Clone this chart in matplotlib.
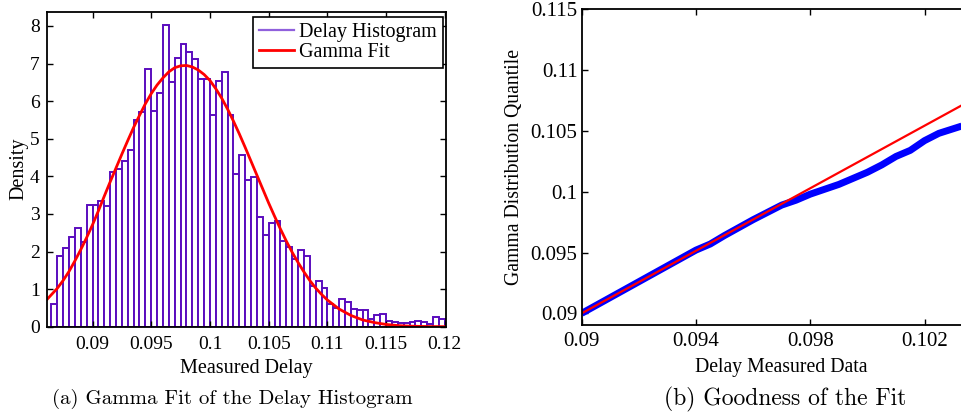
import numpy as np
import matplotlib
matplotlib.use('Agg')
import matplotlib.pyplot as plt
from matplotlib.lines import Line2D


# histogram of measured delay (bins of width 0.0005 starting at 0.0865)
bin_start = 0.0865
bin_width = 0.0005
density = [0.61, 1.89, 2.09, 2.38, 2.62, 2.25, 3.23, 3.25, 3.35, 3.20,
           4.11, 4.20, 4.40, 4.70, 5.49, 5.71, 6.85, 5.74, 6.22, 8.02,
           6.50, 7.15, 7.53, 7.30, 7.11, 6.58, 6.60, 5.64, 6.53, 6.78,
           5.64, 4.07, 4.56, 3.89, 3.97, 2.93, 2.45, 2.76, 2.81, 2.27,
           2.13, 1.80, 2.05, 1.87, 1.07, 1.22, 1.02, 0.60, 0.49, 0.75,
           0.66, 0.47, 0.45, 0.44, 0.21, 0.31, 0.35, 0.14, 0.13, 0.11,
           0.11, 0.12, 0.14, 0.12, 0.07, 0.27, 0.21]

# gamma fit curve
fit_x = [0.08614, 0.087, 0.0875, 0.088, 0.0885, 0.089, 0.0895, 0.090, 0.0905,
         0.091, 0.0915, 0.092, 0.0925, 0.093, 0.0935, 0.094, 0.0945, 0.095,
         0.0955, 0.096, 0.0965, 0.097, 0.0975, 0.098, 0.0985, 0.099, 0.0995,
         0.100, 0.1005, 0.101, 0.1015, 0.102, 0.1025, 0.103, 0.1035, 0.104,
         0.1045, 0.105, 0.1055, 0.106, 0.1065, 0.107, 0.1075, 0.108, 0.1085,
         0.109, 0.1095, 0.110, 0.111, 0.112, 0.113, 0.114, 0.115, 0.116,
         0.117, 0.118, 0.119, 0.1201]
fit_y = [0.73, 1.02, 1.23, 1.47, 1.75, 2.05, 2.37, 2.71, 3.08,
         3.47, 3.85, 4.22, 4.59, 4.95, 5.30, 5.62, 5.93, 6.20,
         6.43, 6.62, 6.78, 6.89, 6.94, 6.95, 6.91, 6.83, 6.71,
         6.55, 6.33, 6.08, 5.79, 5.47, 5.13, 4.77, 4.40, 4.03,
         3.66, 3.29, 2.94, 2.60, 2.28, 1.98, 1.71, 1.46, 1.23,
         1.03, 0.86, 0.71, 0.47, 0.30, 0.18, 0.11, 0.06, 0.03,
         0.015, 0.007, 0.003, 0.001]

# QQ plot: measured quantiles vs gamma quantiles
qq_x = [0.0900, 0.0910, 0.0920, 0.0930, 0.0940, 0.0945, 0.0950, 0.0960, 0.0970,
        0.0975, 0.0980, 0.0985, 0.0990, 0.0995, 0.1000, 0.1005, 0.1010, 0.1015,
        0.1020, 0.1025, 0.1033]
qq_y = [0.0900, 0.0913, 0.0926, 0.0939, 0.0952, 0.0957, 0.0964, 0.0977, 0.0989,
        0.0993, 0.0998, 0.1002, 0.1006, 0.1011, 0.1016, 0.1022, 0.1029, 0.1034,
        0.1042, 0.1048, 0.1054]
ref_x = [0.0900, 0.1033]
ref_y = [0.0900, 0.1071]

hist_xticks = [0.09, 0.095, 0.1, 0.105, 0.11, 0.115, 0.12]
hist_xlabels = ['0.09', '0.095', '0.1', '0.105', '0.11', '0.115', '0.12']
qq_xticks = [0.09, 0.094, 0.098, 0.102]
qq_xlabels = ['0.09', '0.094', '0.098', '0.102']
qq_yticks = [0.09, 0.095, 0.1, 0.105, 0.11, 0.115]
qq_ylabels = ['0.09', '0.095', '0.1', '0.105', '0.11', '0.115']

plt.rcParams['font.family'] = ['Liberation Serif', 'DejaVu Serif']

W, H = 961, 419
fig = plt.figure(figsize=(W / 100, H / 100), dpi=100)


def style_axes(ax, size, pad):
    for s in ax.spines.values():
        s.set_linewidth(1.3)
    ax.tick_params(direction='in', top=True, right=True, length=4, width=1.0,
                   labelsize=size, pad=pad)


# (a) histogram with gamma fit
ax1 = fig.add_axes([46.7 / W, 1 - 326.7 / H, (446 - 46.7) / W, 315 / H])
lefts = bin_start + bin_width * np.arange(len(density))
ax1.bar(lefts, density, width=bin_width, align='edge', color='white',
        edgecolor='#5a0cbe', linewidth=1.4)
ax1.plot(fit_x, fit_y, color='red', linewidth=2.0)
ax1.set_xlim(0.0861, 0.1201)
ax1.set_ylim(0, 8.38)
ax1.set_xticks(hist_xticks)
ax1.set_xticklabels(hist_xlabels)
ax1.set_yticks(range(9))
style_axes(ax1, 14, 5)
ax1.tick_params(axis='x', pad=7)
ax1.set_xlabel('Measured Delay', fontsize=14.5, labelpad=4)
ax1.set_ylabel('Density', fontsize=14.5, labelpad=1)
handles = [Line2D([], [], color='#9060dc', linewidth=1.6),
           Line2D([], [], color='red', linewidth=2.0)]
leg = ax1.legend(handles, ['Delay Histogram', 'Gamma Fit'], loc='upper right',
                 bbox_to_anchor=(443 / W, 1 - 17.3 / H), bbox_transform=fig.transFigure,
                 borderaxespad=0, fontsize=14.5, fancybox=False, framealpha=1,
                 edgecolor='black', handlelength=1.75, handletextpad=0.25,
                 labelspacing=0.02, borderpad=0.3)
leg.get_frame().set_linewidth(1.2)

# (b) QQ plot
ax2 = fig.add_axes([581.7 / W, 1 - 325 / H, 400 / W, 315.7 / H])
ax2.plot(qq_x, qq_y, color='blue', linewidth=5, solid_capstyle='butt')
ax2.plot(ref_x, ref_y, color='red', linewidth=1.6)
ax2.set_xlim(0.09, 0.104)
ax2.set_ylim(0.08904, 0.115)
ax2.set_xticks(qq_xticks)
ax2.set_xticklabels(qq_xlabels)
ax2.set_yticks(qq_yticks)
ax2.set_yticklabels(qq_ylabels)
style_axes(ax2, 15, 5)
ax2.tick_params(axis='y', pad=3)
ax2.set_xlabel('Delay Measured Data', fontsize=14.2, labelpad=5)
ax2.set_ylabel('Gamma Distribution Quantile', fontsize=14.2, labelpad=5)

# captions
fig.text(232 / W, 1 - 399 / H, '(a) Gamma Fit of the Delay Histogram',
         family='cmr10', fontsize=15, ha='center', va='center')
fig.text(785 / W, 1 - 399 / H, '(b) Goodness of the Fit',
         family='cmr10', fontsize=17, ha='center', va='center')

fig.savefig('out.png', dpi=100)
